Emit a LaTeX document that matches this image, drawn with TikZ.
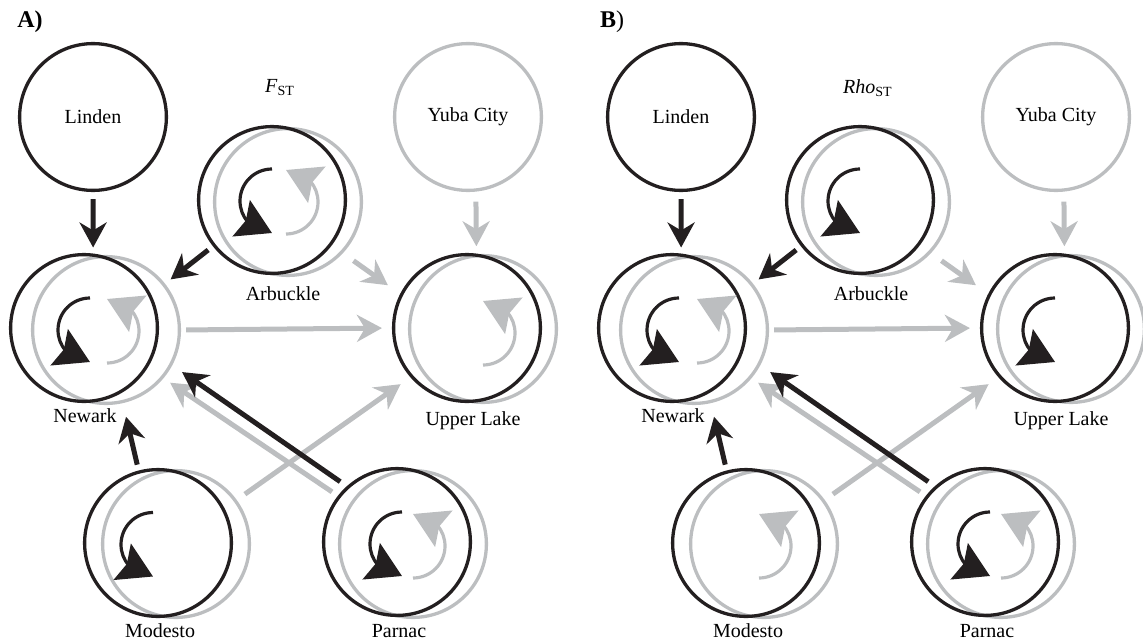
\documentclass[tikz,border=0pt]{standalone}
\usepackage{fontspec}
\setmainfont{Liberation Serif}
\usetikzlibrary{positioning,arrows.meta,bending}
\definecolor{inkblack}{RGB}{35,31,32}
\definecolor{lightgrey}{RGB}{188,190,192}

\begin{document}
\begin{tikzpicture}
  [x=0.5pt,y=0.5pt,
   popN/.style={draw=inkblack,circle,line width=1.65pt,minimum size=73.4pt,inner sep=0pt,
                font=\fontsize{10}{12}\selectfont},
   popG/.style={popN,draw=lightgrey},
   nameN/.style={inner sep=0pt,outer sep=0pt,font=\fontsize{10}{12}\selectfont},
   blackArr/.style={color=inkblack,line width=2.5pt,-{Stealth[length=12.5pt,width=13.5pt,inset=4pt]}},
   greyArr/.style={blackArr,color=lightgrey},
   blackLoop/.style={color=inkblack,line width=1.6pt,-{Stealth[length=17pt,width=20pt,inset=2.5pt]}},
   greyLoop/.style={blackLoop,color=lightgrey},
  ]
 \useasboundingbox (0,0) rectangle (1143,-642);

 \node[font=\fontsize{12}{14}\selectfont\bfseries] (tagA) at (30,-22) {A)};
 \node[font=\fontsize{12}{14}\selectfont] (tagB) at (612,-22) {\textbf{B})};

 \foreach \p/\dx/\stat in {A/0/F,B/588/Rho}{
  \begin{scope}[shift={(\dx,0)}]
   \node[nameN] (stat\p) at (280,-88) {\textit{\stat}\textsubscript{ST}};

   % populations, grey ring under black ring
   \node[popN] (linden\p) at (93,-117) {Linden};
   \node[popG] (yuba\p) at (468,-117) {Yuba City};
   \node[popG] (arbucklegr\p) at (288,-202) {};
   \node[popN] (arbuckle\p) at (272,-200) {};
   \node[popG] (newarkgr\p) at (106,-330) {};
   \node[popN] (newark\p) at (84,-328) {};
   \node[popG] (upperlakegr\p) at (483,-329) {};
   \node[popN] (upperlake\p) at (467,-328) {};
   \node[popG] (modestogr\p) at (176,-544) {};
   \node[popN] (modesto\p) at (158,-543) {};
   \node[popG] (parnacgr\p) at (413,-544) {};
   \node[popN] (parnac\p) at (397,-542) {};

   \node[nameN,below=3pt of newark\p,xshift=0.5pt] (newarkLbl\p) {Newark};
   \node[nameN,below=6pt of arbuckle\p,xshift=5.5pt] (arbuckleLbl\p) {Arbuckle};
   \node[nameN,below=4.5pt of upperlake\p,xshift=3pt] (upperlakeLbl\p) {Upper Lake};
   \node[nameN,below=3pt of modesto\p,xshift=1pt] (modestoLbl\p) {Modesto};
   \node[nameN,below=3.5pt of parnac\p,xshift=1pt] (parnacLbl\p) {Parnac};

   % migration
   \draw[greyArr,shorten <=2.5pt,shorten >=5pt] (newarkgr\p.0) -- (upperlake\p.180);
   \draw[greyArr,shorten <=6.5pt,shorten >=7.5pt] (arbucklegr\p.-43) -- (upperlake\p.153);
   \draw[greyArr,shorten <=5pt,shorten >=4pt] (yuba\p.-84) -- (upperlakegr\p.95);
   \draw[greyArr,shorten <=5pt,shorten >=6pt] (modestogr\p.36) -- (upperlake\p.221);
   \draw[greyArr,shorten <=3.5pt,shorten >=4pt] (parnac\p.142) -- (newarkgr\p.-40);
   \draw[blackArr,shorten <=3.5pt,shorten >=3pt] (linden\p.south) -- (newark\p.83);
   \draw[blackArr,shorten <=3pt,shorten >=3.5pt] (arbuckle\p) -- (newarkgr\p);
   \draw[blackArr,shorten <=3pt,shorten >=7pt] (modesto\p.105) -- (newarkgr\p.-77);
   \draw[blackArr,shorten <=4pt,shorten >=6pt] (parnac\p.132) -- (newarkgr\p.-28);
  \end{scope}
 }

 % self recruitment, panel A
 \draw[blackLoop] (newarkA.center) ++(6,30) arc[start angle=90,end angle=270,radius=32];
 \draw[greyLoop] (newarkgrA.center) ++(1,-33) arc[start angle=-90,end angle=90,radius=32];
 \draw[blackLoop] (arbuckleA.center) ++(0,31) arc[start angle=90,end angle=270,radius=32];
 \draw[greyLoop] (arbucklegrA.center) ++(-2,-32) arc[start angle=-90,end angle=90,radius=32];
 \draw[greyLoop] (upperlakegrA.center) ++(0,-36) arc[start angle=-90,end angle=90,radius=32];
 \draw[blackLoop] (modestoA.center) ++(-5,30.5) arc[start angle=90,end angle=270,radius=32];
 \draw[blackLoop] (parnacA.center) ++(5,30) arc[start angle=90,end angle=270,radius=32];
 \draw[greyLoop] (parnacgrA.center) ++(0,-34) arc[start angle=-90,end angle=90,radius=32];

 % self recruitment, panel B
 \draw[blackLoop] (newarkB.center) ++(7,30) arc[start angle=90,end angle=270,radius=32];
 \draw[greyLoop] (newarkgrB.center) ++(3,-33) arc[start angle=-90,end angle=90,radius=32];
 \draw[blackLoop] (arbuckleB.center) ++(0,31) arc[start angle=90,end angle=270,radius=32];
 \draw[blackLoop] (upperlakeB.center) ++(0,30) arc[start angle=90,end angle=270,radius=32];
 \draw[greyLoop] (modestogrB.center) ++(-5,-34) arc[start angle=-90,end angle=90,radius=32];
 \draw[blackLoop] (parnacB.center) ++(5,30) arc[start angle=90,end angle=270,radius=32];
 \draw[greyLoop] (parnacgrB.center) ++(0,-34) arc[start angle=-90,end angle=90,radius=32];

\end{tikzpicture}
\end{document}
